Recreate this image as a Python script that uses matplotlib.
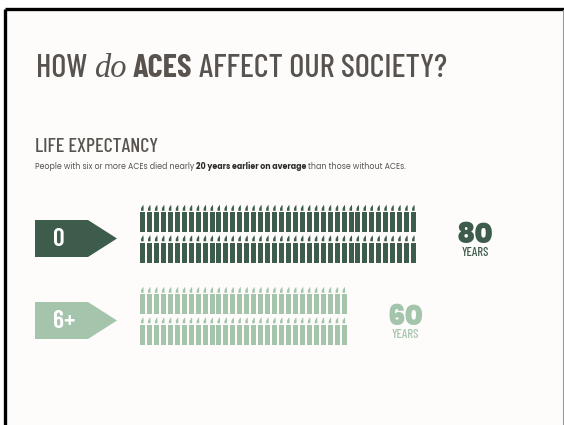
import matplotlib
matplotlib.use("Agg")
import matplotlib.pyplot as plt
from matplotlib import font_manager
from matplotlib.patches import Rectangle, Polygon

# data
groups = ["0", "6+"]
years = [80, 60]
rows_per_group = 2
title_parts = ["HOW", "do", "ACES", "AFFECT OUR SOCIETY?"]
section_title = "LIFE EXPECTANCY"
subtitle_parts = ["People with six or more ACEs died nearly", "20 years earlier on average",
                  "than those without ACEs."]
unit_label = "YEARS"

dark = "#3d5c4c"
light = "#a4c5ac"
group_colors = [dark, light]
grey = "#58534f"
bg = "#fdfcfa"

weights = {}
for f in font_manager.fontManager.ttflist:
    if f.style == "normal":
        w = f.weight if isinstance(f.weight, int) else font_manager.weight_dict.get(f.weight, 400)
        weights.setdefault(f.name, set()).add(w)


def pick(names, need, fallback="DejaVu Sans"):
    # first family that has every weight in need
    for n in names:
        if n in weights and all(any(abs(w - x) <= 50 for w in weights[n]) for x in need):
            return n
    return fallback


cond = pick(["Barlow Condensed", "Oswald", "Fjalla One", "Roboto Condensed", "Liberation Sans Narrow"],
            [500, 700])
geo = pick(["Jost", "League Spartan", "Spartan", "Montserrat", "Poppins", "Lato", "Nunito Sans"],
           [400, 700, 900])
serif = pick(["Liberation Serif", "DejaVu Serif"], [400])

fig = plt.figure(figsize=(5.64, 4.25), dpi=100, facecolor="white")
ax = fig.add_axes([0, 0, 1, 1])
ax.set_xlim(0, 564)
ax.set_ylim(425, 0)
ax.axis("off")
renderer = fig.canvas.get_renderer()

# frame
ax.add_patch(Rectangle((6, 10), 556, 420, facecolor=bg, edgecolor="none"))
ax.plot([4.5, 4.5], [8.5, 425], color="black", lw=2.4, solid_capstyle="butt")
ax.plot([4.5, 564], [8.5, 8.5], color="black", lw=2.4, solid_capstyle="butt")
ax.plot([562.5, 562.5], [10, 425], color="#9a9a9a", lw=0.8)


def draw_parts(parts, x, y, size, styles, gap):
    texts = []
    for s, st in zip(parts, styles):
        t = ax.text(x, y, s, fontsize=size, va="baseline", ha="left", **st)
        w = t.get_window_extent(renderer).width
        texts.append(t)
        x += w + gap * size
    return texts, x - gap * size


def fit_parts(parts, x, y, target_right, styles, gap, size0=20):
    texts, right = draw_parts(parts, x, y, size0, styles, gap)
    for t in texts:
        t.remove()
    size = size0 * (target_right - x) / (right - x)
    draw_parts(parts, x, y, size, styles, gap)


# title
title_styles = [dict(family=cond, color=grey, fontweight=500),
                dict(family=serif, color=grey, style="italic"),
                dict(family=cond, color=grey, fontweight=700),
                dict(family=cond, color=grey, fontweight=500)]
fit_parts(title_parts, 36, 77, 448, title_styles, 0.28)

fit_parts([section_title], 35, 152, 158, [dict(family=cond, color=grey, fontweight=500)], 0)

sub_styles = [dict(family=geo, color=grey, fontweight=400),
              dict(family=geo, color="#2e2b29", fontweight=700),
              dict(family=geo, color=grey, fontweight=400)]
fit_parts(subtitle_parts, 35, 169, 403, sub_styles, 0.3)

# candles
x_start = 140
pitch = 6.95
body_w = 5
body_h = 20
row_gap = 30.5
group_top = [205, 287]

for g, (label, yrs, col, top) in enumerate(zip(groups, years, group_colors, group_top)):
    per_row = yrs // rows_per_group
    # tag arrow
    ax.add_patch(Polygon([(35, top + 15), (88, top + 15), (117, top + 33.5),
                          (88, top + 52), (35, top + 52)], closed=True,
                         facecolor=col, edgecolor="none"))
    ax.text(53, top + 41, label, fontsize=18.5, color="white", family=cond, fontweight=600,
            va="baseline", ha="left")
    for r in range(rows_per_group):
        ftop = top + r * row_gap
        btop = ftop + 7
        for i in range(per_row):
            x0 = x_start + i * pitch
            ax.add_patch(Rectangle((x0, btop), body_w, body_h, facecolor=col, edgecolor="none"))
            flame = [(x0 + 1.0, btop - 1.2), (x0 + 1.1, btop - 3.8), (x0 + 2.4, btop - 6.0),
                     (x0 + 3.4, btop - 7.2), (x0 + 3.6, btop - 4.5), (x0 + 3.6, btop - 1.2)]
            ax.add_patch(Polygon(flame, closed=True, facecolor=col, edgecolor="none"))
    xc = x_start + per_row * pitch + 57
    ax.text(xc, top + 38, str(yrs), fontsize=20, fontweight=900, family=geo,
            color=col, ha="center", va="baseline")
    ax.text(xc, top + 51.5, unit_label, fontsize=9, family=cond, fontweight=500, color=col,
            ha="center", va="baseline")

fig.savefig("out.png", dpi=100, facecolor="white")
